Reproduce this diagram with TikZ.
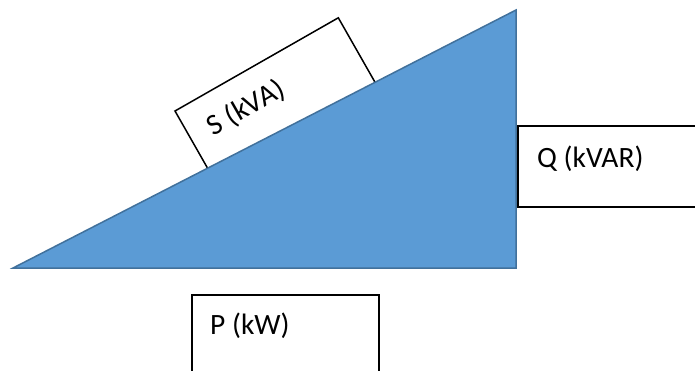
\documentclass[tikz,border=0pt]{standalone}
\usepackage{fontspec}
\setmainfont{Carlito}
\definecolor{triFill}{HTML}{5B9BD5}
\definecolor{triEdge}{HTML}{41719C}
\tikzset{
  labelbox/.style={draw=black, line width=1.5pt, fill=white, line join=miter},
  lbl/.style={font=\fontsize{29.5}{31}\selectfont, inner sep=0pt}
}
\begin{document}
\begin{tikzpicture}[x=1pt,y=-1pt]
\useasboundingbox (0,0) rectangle (695,371);
\clip (0,0) rectangle (695,371);
% S box (rotated, partly hidden by triangle)
\coordinate (s1) at (175,111);
\coordinate (s2) at (338.3,17.8);
\coordinate (s3) at (377.9,87.3);
\coordinate (s4) at (214.6,180.5);
\draw[labelbox] (s1) -- (s2) -- (s3) -- (s4) -- cycle;
\node[lbl, rotate=29.7, anchor=center] (s) at (246,108) {S (kVA)};
% triangle
\coordinate (a) at (13,268);
\coordinate (b) at (516,268);
\coordinate (c) at (516,10);
\draw[fill=triFill, draw=triEdge, line width=1.5pt, line join=miter] (a) -- (b) -- (c) -- cycle;
% Q box
\draw[labelbox] (518,126) rectangle (705,207);
\node[lbl, anchor=base west] (q) at (537,168) {Q (kVAR)};
% P box
\draw[labelbox] (192,295) rectangle (379,385);
\node[lbl, anchor=base west] (p) at (210,334) {P (kW)};
\end{tikzpicture}
\end{document}
